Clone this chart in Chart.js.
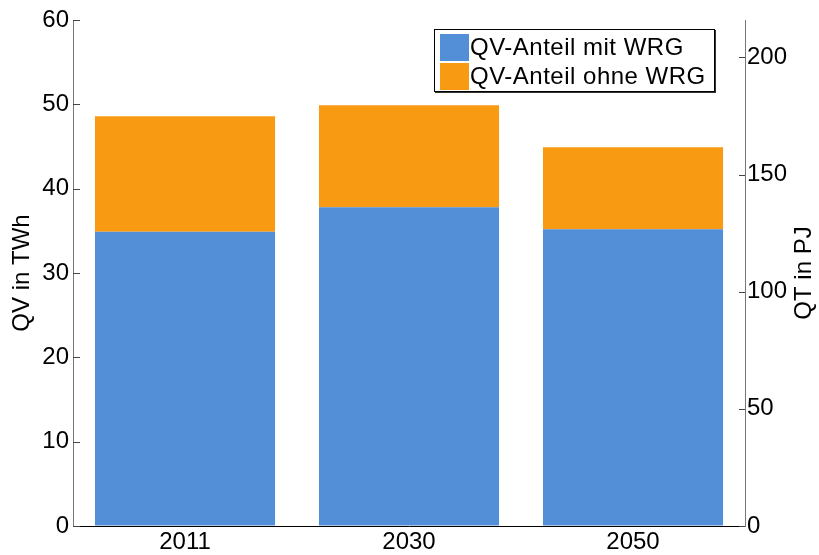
<!DOCTYPE html>
<html>
<head>
<meta charset="utf-8">
<script src="https://cdn.jsdelivr.net/npm/chart.js@4"></script>
<style>
  body { margin: 0; background: #fff; }
  #wrap { position: relative; width: 819px; height: 555px; }
  #legend {
    position: absolute; left: 434px; top: 29px; width: 279px; height: 61px;
    border: 1px solid #000; box-shadow: 1px 1px 0 #333; background: #fff;
    font-family: "Liberation Sans", Arial, sans-serif; font-size: 24px; color: #000;
    letter-spacing: 0.5px;
  }
  #legend .row { position: absolute; left: 5px; height: 28px; display: flex; align-items: center; white-space: nowrap; }
  #legend .sw { width: 29px; height: 27px; margin-right: 1px; }
</style>
</head>
<body>
<div id="wrap">
  <canvas id="chart" width="819" height="555"></canvas>
  <div id="legend"></div>
</div>
<script>
// years and heat demand split (TWh)
const years = ['2011', '2030', '2050'];
const withWRG = [34.9, 37.8, 35.2];
const withoutWRG = [13.7, 12.1, 9.7];
const seriesLabels = ['QV-Anteil mit WRG', 'QV-Anteil ohne WRG'];
const seriesColors = ['#528FD6', '#F99B12'];

// left axis in TWh, right axis the same range in PJ (1 TWh = 3.6 PJ)
const twhMax = 60;
const pjMax = twhMax * 3.6;
const pjTicks = [0, 50, 100, 150, 200];

const font = { family: '"Liberation Sans", Arial, sans-serif', size: 24 };

// tick marks pointing into the plot, plus the right axis title
const innerTicks = {
  id: 'innerTicks',
  afterDraw(chart) {
    const ctx = chart.ctx;
    const y = chart.scales.y, y1 = chart.scales.y1;
    ctx.save();
    ctx.strokeStyle = '#444';
    ctx.lineWidth = 1;
    y.ticks.forEach(t => {
      const py = Math.round(y.getPixelForValue(t.value)) + 0.5;
      ctx.beginPath(); ctx.moveTo(y.right, py); ctx.lineTo(y.right + 7, py); ctx.stroke();
    });
    y1.ticks.forEach(t => {
      const py = Math.round(y1.getPixelForValue(t.value)) + 0.5;
      ctx.beginPath(); ctx.moveTo(y1.left - 6, py); ctx.lineTo(y1.left, py); ctx.stroke();
    });
    const area = chart.chartArea;
    ctx.translate(804, (area.top + area.bottom) / 2);
    ctx.rotate(-Math.PI / 2);
    ctx.fillStyle = '#000';
    ctx.font = '24px ' + font.family;
    ctx.textAlign = 'center';
    ctx.textBaseline = 'middle';
    ctx.fillText('QT in PJ', 0, 0);
    ctx.restore();
  }
};

const chart = new Chart(document.getElementById('chart'), {
  type: 'bar',
  data: {
    labels: years,
    datasets: [
      { label: seriesLabels[0], data: withWRG, backgroundColor: seriesColors[0], yAxisID: 'y' },
      { label: seriesLabels[1], data: withoutWRG, backgroundColor: seriesColors[1], yAxisID: 'y' }
    ]
  },
  options: {
    responsive: false,
    animation: false,
    barPercentage: 0.804,
    categoryPercentage: 1,
    layout: { padding: { top: 20, left: 0, right: 0, bottom: 0 } },
    plugins: {
      legend: { display: false },
      tooltip: { enabled: false }
    },
    scales: {
      x: {
        stacked: true,
        z: 1,
        grid: { display: false, drawTicks: false },
        border: { display: true, color: '#000', width: 1 },
        ticks: { color: '#000', font: font, padding: 2 },
        afterFit(s) { s.height = 29; }
      },
      y: {
        stacked: true,
        min: 0,
        max: twhMax,
        position: 'left',
        grid: { drawOnChartArea: false, drawTicks: false },
        border: { display: true, color: '#777', width: 1 },
        ticks: { stepSize: 10, color: '#000', font: font, padding: 4 },
        title: { display: true, text: 'QV in TWh', color: '#000', font: font, padding: { top: 8, bottom: 0 } },
        afterFit(s) { s.width = 73; }
      },
      y1: {
        min: 0,
        max: pjMax,
        position: 'right',
        grid: { drawOnChartArea: false, drawTicks: false },
        border: { display: true, color: '#777', width: 1 },
        ticks: { color: '#000', font: font, padding: 2 },
        afterBuildTicks(s) { s.ticks = pjTicks.map(v => ({ value: v })); },
        afterFit(s) { s.width = 74; }
      }
    }
  },
  plugins: [innerTicks]
});

// legend box built from the dataset labels and colours
const legend = document.getElementById('legend');
chart.data.datasets.forEach((ds, i) => {
  const row = document.createElement('div');
  row.className = 'row';
  row.style.top = (3 + i * 29) + 'px';
  row.innerHTML = '<span class="sw" style="background:' + ds.backgroundColor + '"></span>' + ds.label;
  legend.appendChild(row);
});
</script>
</body>
</html>
